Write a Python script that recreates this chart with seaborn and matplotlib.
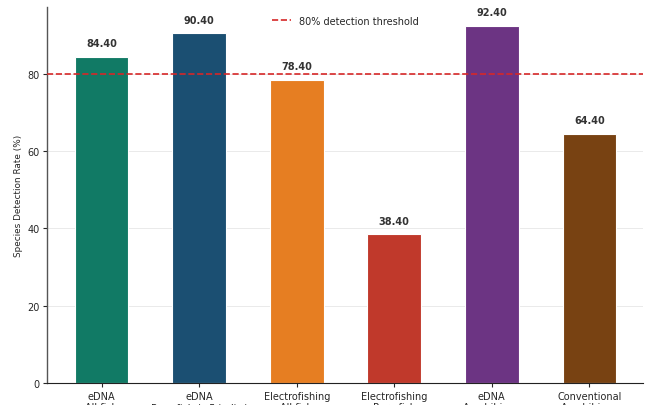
import matplotlib
matplotlib.use("Agg")
import matplotlib.pyplot as plt
import seaborn as sns
import pandas as pd

# Detection rates by survey method and target group
methods = [
    "eDNA\nAll fish",
    "eDNA\nRare fish (<5 indiv.)",
    "Electrofishing\nAll fish",
    "Electrofishing\nRare fish",
    "eDNA\nAmphibians",
    "Conventional\nAmphibians",
]
detection_rate = [84.4, 90.4, 78.4, 38.4, 92.4, 64.4]
bar_colors = ["#117A65", "#1B4F72", "#E67E22", "#C0392B", "#6C3483", "#784212"]
threshold = 80
y_ticks = [0, 20, 40, 60, 80]

df = pd.DataFrame({"method": methods, "rate": detection_rate})

sns.set_style("white")
plt.rcParams["font.family"] = ["DejaVu Sans"]

fig = plt.figure(figsize=(6.49, 4.06), dpi=100)
ax = fig.add_axes([47 / 649, 22 / 406, 596 / 649, 376 / 406])

sns.barplot(
    data=df, x="method", y="rate", hue="method", palette=bar_colors,
    width=0.55, legend=False, ax=ax, edgecolor="white", linewidth=0.8,
    saturation=1,
)

ax.axhline(threshold, color="#d62728", linestyle="--", linewidth=1.2,
           label="80% detection threshold", zorder=3)

for i, v in enumerate(detection_rate):
    ax.text(i, v + 2.2, f"{v:.2f}", ha="center", va="bottom",
            fontsize=7, fontweight="bold", color="#333333")

ax.set_xlim(-0.56, 5.55)
ax.set_ylim(0, 97.2)
ax.set_yticks(y_ticks)
ax.yaxis.grid(True, color="#e6e6e6", linewidth=0.6)
ax.set_axisbelow(True)
ax.set_xlabel("")
ax.set_ylabel("Species Detection Rate (%)", fontsize=6.4, labelpad=3)
ax.tick_params(axis="both", labelsize=7, length=3, pad=2.5,
               bottom=True, left=True)
sns.despine(ax=ax)
ax.spines["left"].set_color("#555555")
ax.spines["left"].set_linewidth(1.0)
ax.spines["bottom"].set_color("#222222")

ax.legend(loc="upper center", frameon=False, fontsize=7,
          bbox_to_anchor=(0.5, 1.0))

fig.savefig("out.png", dpi=100)
